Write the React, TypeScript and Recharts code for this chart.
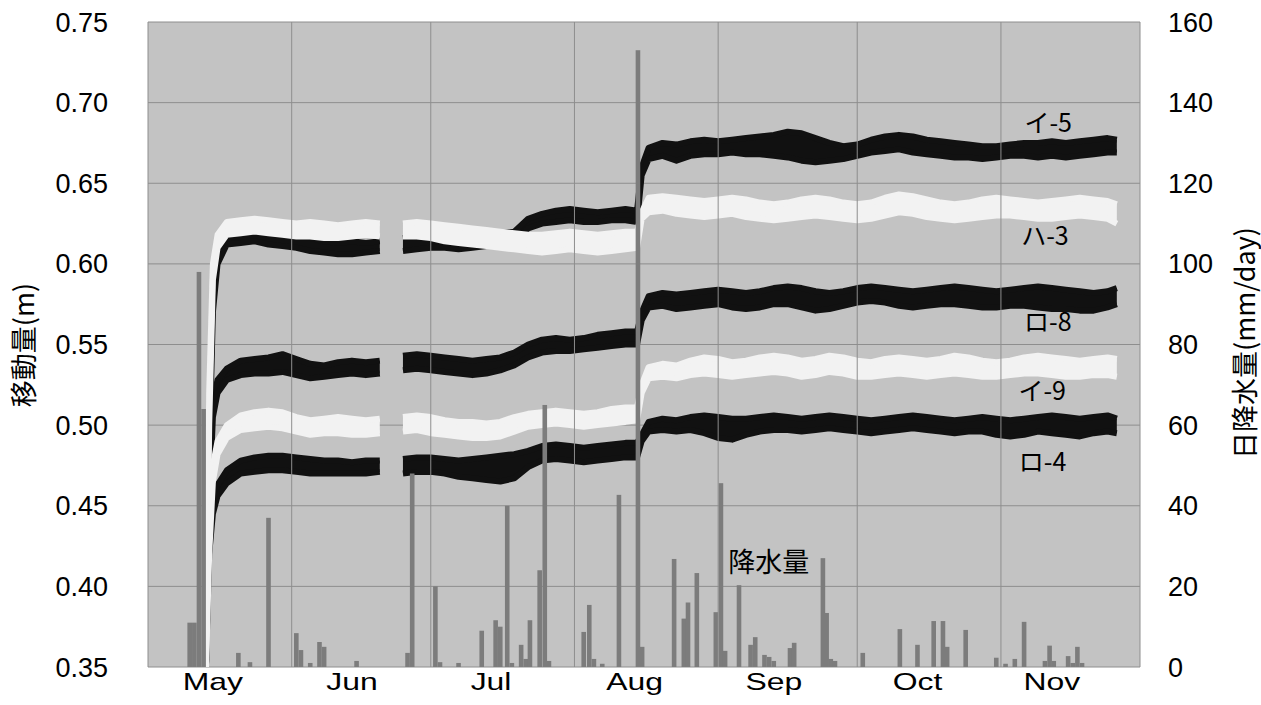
import React from 'react';
import { ComposedChart, Area, Bar, XAxis, YAxis, CartesianGrid, ReferenceLine, ReferenceDot } from 'recharts';

// x axis: days counted from 1 May
const monthNames = ['May', 'Jun', 'Jul', 'Aug', 'Sep', 'Oct', 'Nov'];
const monthLabelDays = [14, 44, 74, 105, 135, 166, 195];
const monthStartDays = [0, 31, 61, 92, 123, 153, 184, 214];

const leftTicks = [0.35, 0.4, 0.45, 0.5, 0.55, 0.6, 0.65, 0.7, 0.75];
const rightTicks = [0, 20, 40, 60, 80, 100, 120, 140, 160];

// daily rainfall (mm/day)
const rainDays = [9, 10, 11, 12, 19.5, 22, 26, 32, 33, 35, 37, 38, 45, 56, 57, 62, 63, 67, 72, 75, 76, 77.5, 78.5, 80.5, 81.5, 82.4, 84.5, 85.6, 86.5, 94, 95.2, 96.2, 98, 101.6, 105.7, 106.6, 113.5, 115.6, 116.5, 118.4, 122.5, 123.6, 124.5, 127.5, 130, 131, 133, 134, 135, 138.5, 139.4, 145.6, 146.4, 147.3, 148.2, 154.2, 162.2, 166, 169.5, 171.5, 172.4, 176.4, 183, 185, 187, 189, 193.5, 194.5, 195.4, 198.5, 199.5, 200.5, 201.5];
const rainMm = [11, 11, 98, 64, 3.5, 1.2, 37, 8.4, 4.2, 1, 6.2, 5, 1.5, 3.5, 48, 20, 1.2, 1, 9, 11.6, 10, 40, 1, 5.5, 2, 11.6, 24, 65, 1.5, 8.7, 15.4, 2, 0.8, 42.7, 153, 5, 26.8, 12, 16, 23.3, 13.6, 45.6, 4, 20.3, 5.5, 7.4, 3, 2.5, 1.5, 4.7, 6, 27, 13.4, 2, 1.5, 3.5, 9.4, 5.5, 11.4, 11.4, 5, 9.2, 2.3, 0.8, 2, 11.2, 1.5, 5.3, 1.5, 2.7, 1, 5, 1];

// displacement sampling days (null at day 52 = data gap)
const sampleDays = [12.5, 13.2, 14, 15, 17, 20, 23, 26, 29, 32, 35, 38, 41, 44, 47, 50, 52, 55, 58, 61, 64, 67, 70, 73, 76, 79, 82, 85, 88, 91, 94, 97, 100, 103, 105.5, 106.5, 108, 111, 114, 117, 120, 123, 126, 129, 132, 135, 138, 141, 144, 147, 150, 153, 156, 159, 162, 165, 168, 171, 174, 177, 180, 183, 186, 189, 192, 195, 198, 201, 204, 207, 209];

// upper (a) and lower (b) edges of each gauge's band, m
const i5a = [0.35, 0.50, 0.585, 0.608, 0.618, 0.620, 0.621, 0.620, 0.618, 0.617, 0.616, 0.614, 0.613, 0.614, 0.613, 0.614, null,
  0.616, 0.617, 0.618, 0.617, 0.616, 0.617, 0.618, 0.619, 0.620, 0.628, 0.631, 0.633, 0.634, 0.633, 0.632, 0.633, 0.634, 0.633,
  0.660, 0.672, 0.675, 0.674, 0.676, 0.677, 0.676, 0.677, 0.678, 0.679, 0.680, 0.682, 0.681, 0.678, 0.675, 0.673, 0.674, 0.677, 0.679, 0.680, 0.679, 0.677, 0.676, 0.675, 0.674, 0.673, 0.673, 0.674, 0.675, 0.675, 0.676, 0.675, 0.676, 0.677, 0.678, 0.677];
const i5b = [0.35, 0.48, 0.570, 0.600, 0.612, 0.613, 0.614, 0.612, 0.611, 0.610, 0.608, 0.607, 0.606, 0.606, 0.607, 0.608, null,
  0.608, 0.609, 0.610, 0.610, 0.609, 0.610, 0.611, 0.612, 0.613, 0.622, 0.625, 0.626, 0.627, 0.626, 0.626, 0.627, 0.627, 0.626,
  0.655, 0.665, 0.667, 0.664, 0.667, 0.668, 0.668, 0.669, 0.668, 0.668, 0.667, 0.666, 0.664, 0.663, 0.664, 0.665, 0.667, 0.669, 0.670, 0.671, 0.669, 0.668, 0.667, 0.666, 0.666, 0.665, 0.666, 0.667, 0.667, 0.666, 0.667, 0.666, 0.667, 0.668, 0.669, 0.669];

const h3a = [0.35, 0.52, 0.600, 0.618, 0.626, 0.627, 0.628, 0.627, 0.626, 0.625, 0.626, 0.625, 0.624, 0.625, 0.626, 0.625, null,
  0.625, 0.626, 0.625, 0.624, 0.623, 0.622, 0.621, 0.620, 0.619, 0.618, 0.618, 0.619, 0.620, 0.619, 0.618, 0.619, 0.620, 0.620,
  0.632, 0.641, 0.642, 0.641, 0.640, 0.639, 0.640, 0.641, 0.640, 0.638, 0.637, 0.638, 0.640, 0.641, 0.640, 0.638, 0.637, 0.638, 0.641, 0.643, 0.642, 0.640, 0.638, 0.637, 0.638, 0.640, 0.641, 0.640, 0.639, 0.638, 0.639, 0.640, 0.641, 0.640, 0.639, 0.637];
const h3b = [0.35, 0.50, 0.590, 0.610, 0.618, 0.619, 0.620, 0.619, 0.618, 0.617, 0.617, 0.616, 0.616, 0.617, 0.618, 0.617, null,
  0.617, 0.617, 0.616, 0.614, 0.613, 0.612, 0.611, 0.610, 0.609, 0.608, 0.607, 0.608, 0.609, 0.608, 0.607, 0.608, 0.609, 0.610,
  0.628, 0.632, 0.633, 0.631, 0.630, 0.629, 0.630, 0.631, 0.629, 0.628, 0.627, 0.628, 0.629, 0.630, 0.629, 0.628, 0.627, 0.628, 0.630, 0.632, 0.631, 0.629, 0.628, 0.627, 0.628, 0.629, 0.630, 0.630, 0.629, 0.628, 0.628, 0.629, 0.630, 0.629, 0.628, 0.625];

const r8a = [0.35, 0.47, 0.515, 0.528, 0.535, 0.540, 0.541, 0.542, 0.544, 0.541, 0.538, 0.537, 0.539, 0.540, 0.539, 0.540, null,
  0.543, 0.544, 0.543, 0.542, 0.541, 0.540, 0.541, 0.542, 0.545, 0.550, 0.553, 0.554, 0.553, 0.554, 0.556, 0.557, 0.558, 0.558,
  0.570, 0.580, 0.582, 0.581, 0.582, 0.583, 0.584, 0.583, 0.582, 0.583, 0.585, 0.586, 0.585, 0.583, 0.582, 0.583, 0.585, 0.586, 0.585, 0.584, 0.583, 0.584, 0.585, 0.586, 0.585, 0.584, 0.583, 0.584, 0.585, 0.586, 0.585, 0.584, 0.583, 0.582, 0.583, 0.585];
const r8b = [0.35, 0.45, 0.505, 0.520, 0.528, 0.531, 0.532, 0.532, 0.533, 0.531, 0.529, 0.530, 0.531, 0.532, 0.531, 0.532, null,
  0.534, 0.535, 0.534, 0.533, 0.532, 0.531, 0.532, 0.534, 0.537, 0.542, 0.545, 0.546, 0.546, 0.547, 0.548, 0.549, 0.550, 0.550,
  0.565, 0.573, 0.574, 0.572, 0.573, 0.574, 0.575, 0.573, 0.572, 0.573, 0.575, 0.575, 0.573, 0.571, 0.572, 0.574, 0.576, 0.577, 0.576, 0.574, 0.573, 0.574, 0.575, 0.575, 0.574, 0.573, 0.573, 0.574, 0.574, 0.573, 0.572, 0.572, 0.571, 0.571, 0.573, 0.575];

const i9a = [0.35, 0.44, 0.475, 0.490, 0.500, 0.506, 0.508, 0.509, 0.508, 0.505, 0.503, 0.504, 0.505, 0.504, 0.503, 0.504, null,
  0.505, 0.506, 0.505, 0.503, 0.502, 0.502, 0.501, 0.502, 0.505, 0.507, 0.508, 0.509, 0.508, 0.507, 0.508, 0.510, 0.511, 0.511,
  0.525, 0.536, 0.538, 0.537, 0.540, 0.542, 0.541, 0.539, 0.540, 0.542, 0.543, 0.542, 0.540, 0.541, 0.543, 0.542, 0.540, 0.539, 0.541, 0.542, 0.541, 0.540, 0.541, 0.543, 0.542, 0.540, 0.539, 0.540, 0.542, 0.543, 0.542, 0.541, 0.540, 0.541, 0.542, 0.541];
const i9b = [0.35, 0.42, 0.465, 0.482, 0.492, 0.497, 0.498, 0.499, 0.498, 0.496, 0.494, 0.495, 0.495, 0.494, 0.494, 0.495, null,
  0.496, 0.497, 0.495, 0.494, 0.493, 0.492, 0.492, 0.493, 0.496, 0.499, 0.500, 0.501, 0.500, 0.499, 0.500, 0.501, 0.502, 0.503,
  0.520, 0.529, 0.530, 0.529, 0.531, 0.532, 0.531, 0.530, 0.531, 0.532, 0.533, 0.532, 0.530, 0.531, 0.533, 0.532, 0.530, 0.530, 0.531, 0.532, 0.531, 0.530, 0.531, 0.532, 0.531, 0.530, 0.530, 0.531, 0.532, 0.532, 0.531, 0.530, 0.530, 0.531, 0.531, 0.530];

const r4a = [0.35, 0.43, 0.452, 0.463, 0.472, 0.478, 0.480, 0.481, 0.481, 0.480, 0.479, 0.478, 0.478, 0.477, 0.478, 0.478, null,
  0.479, 0.480, 0.480, 0.479, 0.478, 0.479, 0.480, 0.481, 0.482, 0.484, 0.487, 0.488, 0.487, 0.486, 0.487, 0.488, 0.489, 0.489,
  0.494, 0.502, 0.504, 0.503, 0.505, 0.506, 0.505, 0.504, 0.504, 0.505, 0.506, 0.505, 0.504, 0.505, 0.506, 0.505, 0.504, 0.503, 0.504, 0.505, 0.506, 0.505, 0.504, 0.503, 0.504, 0.505, 0.504, 0.503, 0.504, 0.505, 0.506, 0.505, 0.504, 0.505, 0.506, 0.504];
const r4b = [0.35, 0.42, 0.445, 0.456, 0.464, 0.470, 0.471, 0.472, 0.472, 0.471, 0.470, 0.470, 0.470, 0.470, 0.470, 0.471, null,
  0.470, 0.471, 0.471, 0.470, 0.468, 0.467, 0.466, 0.465, 0.467, 0.474, 0.478, 0.479, 0.478, 0.477, 0.478, 0.479, 0.480, 0.480,
  0.490, 0.496, 0.497, 0.496, 0.497, 0.495, 0.492, 0.491, 0.494, 0.496, 0.497, 0.497, 0.496, 0.497, 0.498, 0.497, 0.496, 0.495, 0.496, 0.497, 0.498, 0.497, 0.496, 0.495, 0.496, 0.496, 0.494, 0.493, 0.494, 0.496, 0.495, 0.494, 0.493, 0.495, 0.496, 0.495];

// in-plot labels (day, displacement)
const annotationTexts = ['イ-5', 'ハ-3', 'ロ-8', 'イ-9', 'ロ-4', '降水量'];
const annotationDays = [194.2, 193.5, 194.1, 192.9, 193, 133.9];
const annotationValues = [0.687, 0.617, 0.564, 0.521, 0.477, 0.415];

const SERIES = [
  { key: 'i5', upper: i5a, lower: i5b, color: '#111111' },
  { key: 'r8', upper: r8a, lower: r8b, color: '#111111' },
  { key: 'r4', upper: r4a, lower: r4b, color: '#111111' },
  { key: 'h3', upper: h3a, lower: h3b, color: '#f2f2f2' },
  { key: 'i9', upper: i9a, lower: i9b, color: '#f2f2f2' },
];

const rainData = rainDays.map((d, i) => ({ day: d, rain: rainMm[i] }));
const toBand = (hi: (number | null)[], lo: (number | null)[]) =>
  sampleDays.map((d, i) => ({ day: d, band: hi[i] == null || lo[i] == null ? null : [lo[i], hi[i]] }));

const TICK_FONT = "'Liberation Sans', Arial, sans-serif";
const JP_FONT = "'Noto Sans CJK JP', 'Noto Sans', sans-serif";
const BAR_W = 4.6;

const MonthTick = ({ x, y, payload }: any) => {
  const idx = monthLabelDays.indexOf(payload.value);
  return (
    <g transform={`translate(${x},${y})`}>
      <text transform="scale(1.33,1)" textAnchor="middle" y={23} fontSize={24} fontFamily={TICK_FONT} fill="#000">
        {monthNames[idx]}
      </text>
    </g>
  );
};

const AxisTitle = ({ tx, ty, text }: any) => (
  <text
    x={tx}
    y={ty}
    transform={`rotate(-90 ${tx} ${ty})`}
    textAnchor="middle"
    dominantBaseline="central"
    fontSize={27}
    fontFamily={JP_FONT}
    fill="#000"
  >
    {text}
  </text>
);

// fixed-width rain column centred on its day
const RainBar = (props: any) => {
  const { x, y, width, height } = props;
  if (!height || height <= 0) return null;
  return <rect x={x + width / 2 - BAR_W / 2} y={y} width={BAR_W} height={height} fill="#7c7c7c" />;
};

export default function App() {
  return (
    <div>
      <style>{'body{margin:0;background:#fff}'}</style>
      <ComposedChart width={1261} height={705} data={rainData} margin={{ top: 22, right: 0, bottom: 0, left: 0 }}>
        <CartesianGrid yAxisId="left" vertical={false} stroke="#8e8e8e" fill="#c3c3c3" fillOpacity={1} />
        <XAxis
          dataKey="day"
          type="number"
          domain={[0, 214]}
          ticks={monthLabelDays}
          interval={0}
          tick={<MonthTick />}
          tickLine={false}
          axisLine={false}
          tickSize={0}
          tickMargin={0}
          height={38}
          allowDataOverflow
        />
        <YAxis
          yAxisId="left"
          orientation="left"
          domain={[0.35, 0.75]}
          ticks={leftTicks}
          interval={0}
          tickFormatter={(v: number) => v.toFixed(2)}
          width={148}
          tickSize={0}
          tickMargin={40}
          tickLine={false}
          axisLine={false}
          tick={{ fontSize: 27, fill: '#000', fontFamily: TICK_FONT }}
          allowDataOverflow
          label={<AxisTitle tx={22} ty={345} text="移動量(m)" />}
        />
        <YAxis
          yAxisId="right"
          orientation="right"
          domain={[0, 160]}
          ticks={rightTicks}
          interval={0}
          width={121}
          tickSize={0}
          tickMargin={28}
          tickLine={false}
          axisLine={false}
          tick={{ fontSize: 27, fill: '#000', fontFamily: TICK_FONT }}
          allowDataOverflow
          label={<AxisTitle tx={1243} ty={343} text="日降水量(mm/day)" />}
        />
        {monthStartDays.map((d) => (
          <ReferenceLine key={`m${d}`} x={d} yAxisId="left" stroke="#8e8e8e" strokeWidth={1} />
        ))}
        {SERIES.map((s) => (
          <Area
            key={s.key}
            data={toBand(s.upper, s.lower)}
            dataKey="band"
            yAxisId="left"
            type="linear"
            stroke={s.color}
            strokeWidth={6}
            strokeLinejoin="round"
            fill={s.color}
            fillOpacity={1}
            dot={false}
            activeDot={false}
            connectNulls={false}
            isAnimationActive={false}
          />
        ))}
        <Bar dataKey="rain" yAxisId="right" barSize={4} shape={<RainBar />} isAnimationActive={false} />
        {annotationTexts.map((t, i) => (
          <ReferenceDot
            key={t}
            x={annotationDays[i]}
            y={annotationValues[i]}
            yAxisId="left"
            r={0}
            fill="none"
            stroke="none"
            ifOverflow="visible"
            label={{ value: t, position: 'center', fontSize: i === 5 ? 27 : 25, fill: '#000', fontFamily: JP_FONT }}
          />
        ))}
      </ComposedChart>
    </div>
  );
}
